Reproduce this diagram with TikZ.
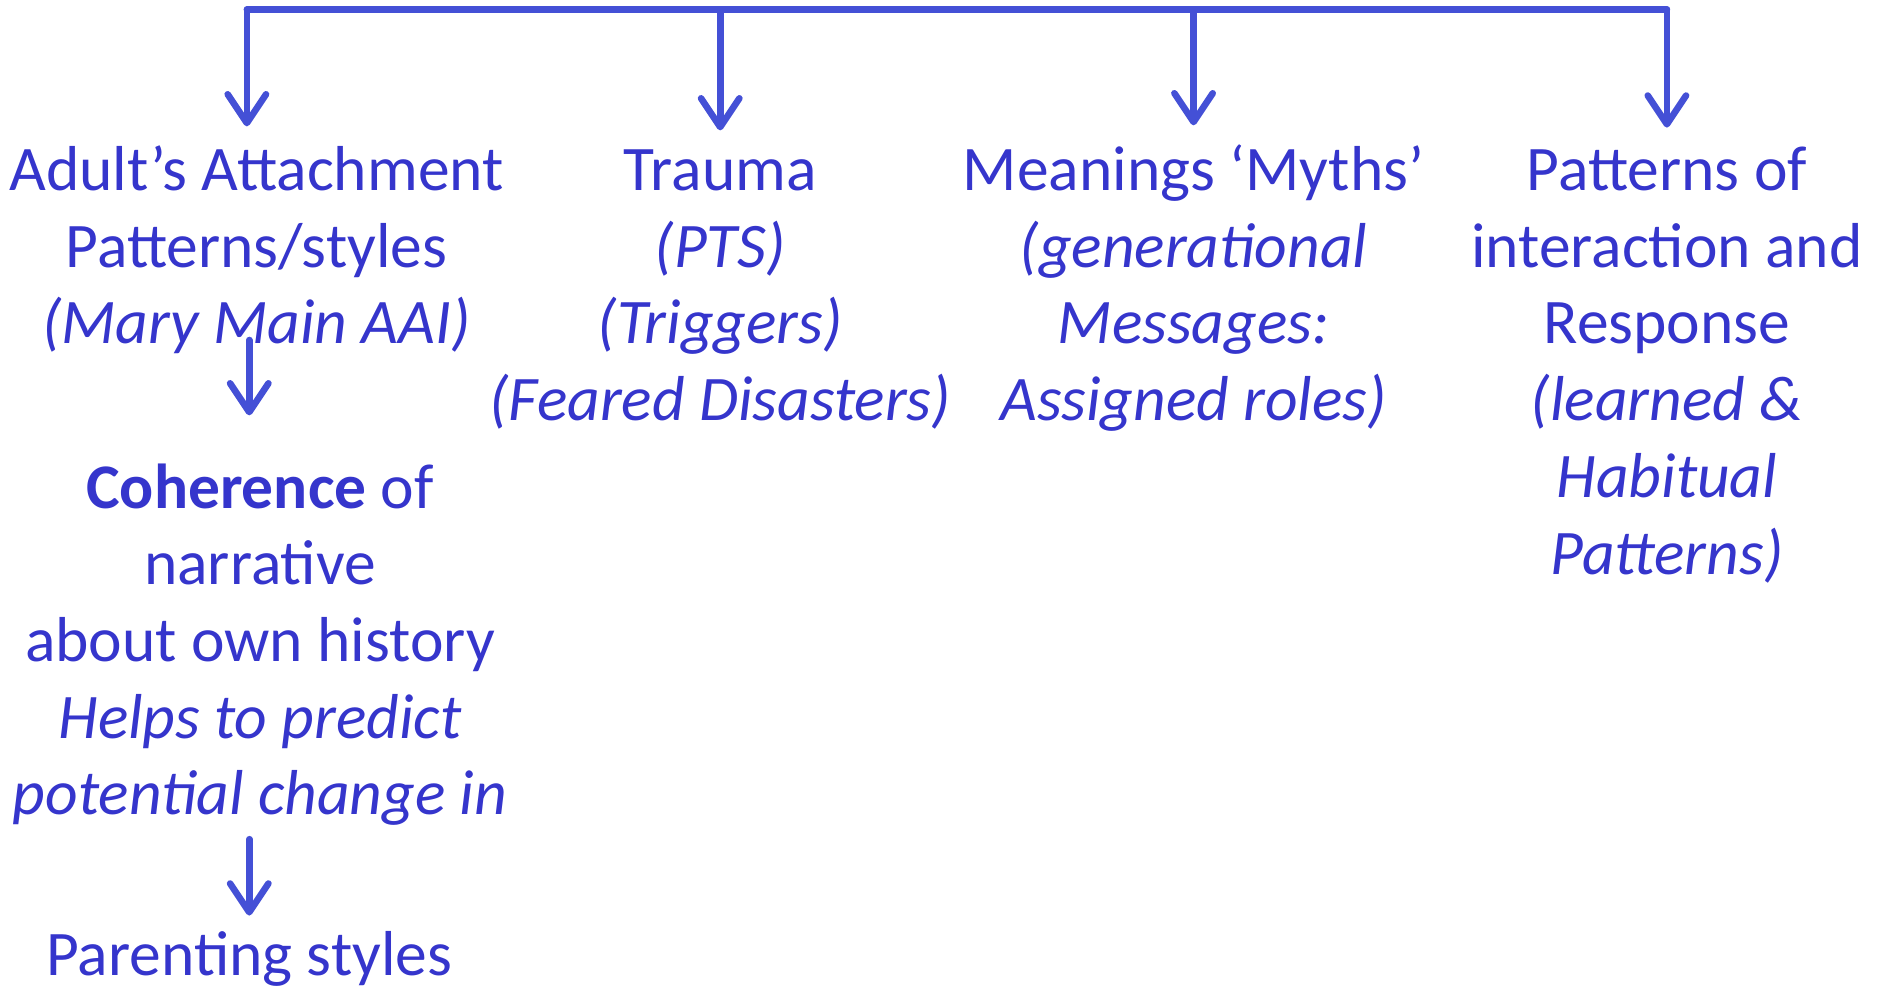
\documentclass[tikz,border=0pt]{standalone}
\usepackage{fontspec}
\setmainfont{Carlito}
\usetikzlibrary{arrows.meta}
\definecolor{ink}{HTML}{3535CC}
\definecolor{wire}{HTML}{4450D6}
\begin{document}
\begin{tikzpicture}[x=1pt,y=-1pt,
  txt/.style={text=ink, font=\fontsize{53}{64}\selectfont, align=center, inner sep=0pt, anchor=base},
  link/.style={draw=wire, line width=5.5pt, line cap=round, line join=round},
  arr/.style={link, -{Straight Barb[length=24pt,width=32pt,round]}}]
\useasboundingbox (0,0) rectangle (1568,823);

% four themes hanging from the top bar (placed by the baseline of their last line)
\node[txt] (attach) at (214,287) {Adult’s Attachment\\Patterns/styles\\\textit{(Mary Main AAI)}};
\node[txt] (trauma) at (601,351) {Trauma\\\textit{(PTS)}\\\textit{(Triggers)}\\\textit{(Feared Disasters)}};
\node[txt] (myths) at (996,351) {Meanings ‘Myths’\\\textit{(generational}\\\textit{Messages:}\\\textit{Assigned roles)}};
\node[txt] (interact) at (1391,479) {Patterns of\\interaction and\\Response\\\textit{(learned \&}\\\textit{Habitual}\\\textit{Patterns)}};

% chain under the attachment theme
\node[txt] (coherence) at (217,680) {\textbf{Coherence} of\\narrative\\about own history\\\textit{Helps to predict}\\\textit{potential change in}};
\node[txt] (parenting) at (208,814) {Parenting styles};

% top bar
\coordinate (barL) at (206,8);
\coordinate (barB) at (601,8);
\coordinate (barC) at (996,8);
\coordinate (barR) at (1391,8);
\draw[link] (barL) -- (barR);
\draw[arr, shorten >=16pt] (barL) -- (barL |- attach.north);
\draw[arr, shorten >=16pt] (barB) -- (barB |- trauma.north);
\draw[arr, shorten >=16pt] (barC) -- (barC |- myths.north);
\draw[arr, shorten >=16pt] (barR) -- (barR |- interact.north);

% downward steps in the left column
\draw[arr, shorten <=-12pt, shorten >=40pt] (attach.south -| parenting) -- (coherence.north -| parenting);
\draw[arr, shorten <=11pt, shorten >=13pt] (coherence.south -| parenting) -- (parenting.north);
\end{tikzpicture}
\end{document}
